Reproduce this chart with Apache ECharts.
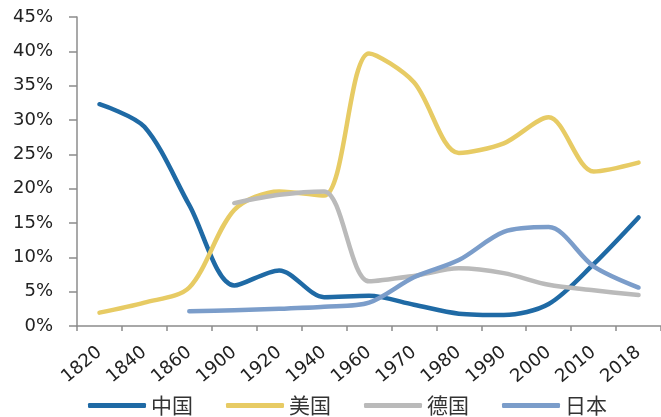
<!DOCTYPE html>
<html>
<head>
<meta charset="utf-8">
<script src="https://cdn.jsdelivr.net/npm/echarts@6/dist/echarts.min.js"></script>
<style>
  html, body { margin: 0; padding: 0; background: #ffffff; }
  #chart { width: 661px; height: 417px; }
</style>
</head>
<body>
<div id="chart"></div>
<script>
// Share of world GDP by country, 1820-2018 (%)
const years = ['1820', '1840', '1860', '1900', '1920', '1940', '1960', '1970', '1980', '1990', '2000', '2010', '2018'];
const seriesNames = ['中国', '美国', '德国', '日本'];
const china   = [32.3, 29.0, 17.6, 5.9, 8.1, 4.2, 4.4, 3.1, 1.8, 1.6, 3.2, 9.0, 15.8];
const usa     = [1.95, 3.4, 5.6, 16.9, 19.6, 19.0, 39.7, 35.5, 25.2, 26.6, 30.4, 22.5, 23.8];
const germany = [null, null, null, 17.9, 19.1, 19.6, 6.5, 7.3, 8.4, 7.7, 6.0, 5.2, 4.5];
const japan   = [null, null, 2.15, 2.3, 2.5, 2.8, 3.4, 7.1, 9.6, 13.7, 14.4, 8.7, 5.6];
const yTicks = [0, 5, 10, 15, 20, 25, 30, 35, 40, 45];

const colors = ['#1f6aa5', '#e7cb64', '#bababa', '#7b9dca'];
const values = [china, usa, germany, japan];

const chart = echarts.init(document.getElementById('chart'));

chart.setOption({
  animation: false,
  color: colors,
  grid: { left: 77, right: 0, top: 17, bottom: 91, containLabel: false },
  legend: {
    data: seriesNames,
    left: 83,
    top: 390,
    icon: 'roundRect',
    itemWidth: 58,
    itemHeight: 5,
    itemGap: 33,
    textStyle: { fontFamily: 'Noto Sans CJK SC', fontSize: 21, color: '#333333' }
  },
  xAxis: {
    type: 'category',
    data: years,
    boundaryGap: true,
    axisLine: { lineStyle: { color: '#8c8c8c', width: 1.5 } },
    axisTick: { show: true, length: 5, lineStyle: { color: '#8c8c8c', width: 1.5 } },
    axisLabel: {
      rotate: 40,
      margin: 24,
      interval: 0,
      fontFamily: 'DejaVu Sans',
      fontSize: 18,
      color: '#222222'
    },
    splitLine: { show: false }
  },
  yAxis: {
    type: 'value',
    min: yTicks[0],
    max: yTicks[yTicks.length - 1],
    interval: yTicks[1] - yTicks[0],
    axisLine: { show: true, lineStyle: { color: '#8c8c8c', width: 1.5 } },
    axisTick: { show: true, length: 8, lineStyle: { color: '#8c8c8c', width: 1.5 } },
    axisLabel: {
      margin: 24,
      formatter: '{value}%',
      fontFamily: 'DejaVu Sans',
      fontSize: 18,
      color: '#222222'
    },
    splitLine: { show: false }
  },
  series: seriesNames.map((name, i) => ({
    name: name,
    type: 'line',
    data: values[i],
    smooth: 0.3,
    showSymbol: false,
    symbol: 'none',
    lineStyle: { width: 4.5, color: colors[i], cap: 'round', join: 'round' },
    itemStyle: { color: colors[i] }
  }))
});
</script>
</body>
</html>
